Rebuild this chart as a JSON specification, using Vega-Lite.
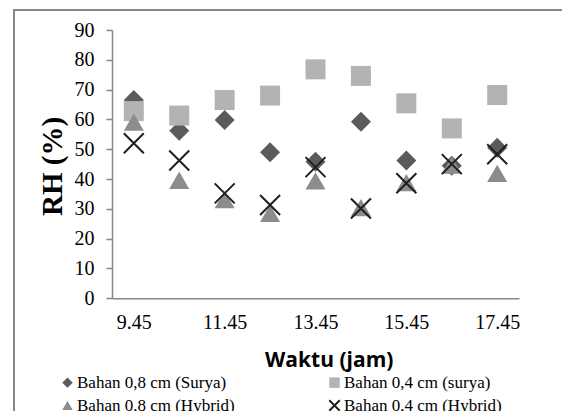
{
  "$schema": "https://vega.github.io/schema/vega-lite/v6.json",
  "width": 578,
  "height": 431,
  "autosize": {"type": "none"},
  "padding": {"left": 14, "top": 10, "right": -30, "bottom": -30},
  "background": "white",
  "config": {"view": {"stroke": "#878787", "strokeWidth": 2}},
  "data": {"values": [
    {"t": "9.45", "s": "Bahan  0,8 cm (Surya)", "rh": 66.5},
    {"t": "10.45", "s": "Bahan  0,8 cm (Surya)", "rh": 56.2},
    {"t": "11.45", "s": "Bahan  0,8 cm (Surya)", "rh": 59.8},
    {"t": "12.45", "s": "Bahan  0,8 cm (Surya)", "rh": 49.0},
    {"t": "13.45", "s": "Bahan  0,8 cm (Surya)", "rh": 45.8},
    {"t": "14.45", "s": "Bahan  0,8 cm (Surya)", "rh": 59.2},
    {"t": "15.45", "s": "Bahan  0,8 cm (Surya)", "rh": 46.2},
    {"t": "16.45", "s": "Bahan  0,8 cm (Surya)", "rh": 44.5},
    {"t": "17.45", "s": "Bahan  0,8 cm (Surya)", "rh": 50.5},
    {"t": "9.45", "s": "Bahan 0,4 cm (surya)", "rh": 62.8},
    {"t": "10.45", "s": "Bahan 0,4 cm (surya)", "rh": 61.3},
    {"t": "11.45", "s": "Bahan 0,4 cm (surya)", "rh": 66.5},
    {"t": "12.45", "s": "Bahan 0,4 cm (surya)", "rh": 68.0},
    {"t": "13.45", "s": "Bahan 0,4 cm (surya)", "rh": 76.8},
    {"t": "14.45", "s": "Bahan 0,4 cm (surya)", "rh": 74.6},
    {"t": "15.45", "s": "Bahan 0,4 cm (surya)", "rh": 65.4},
    {"t": "16.45", "s": "Bahan 0,4 cm (surya)", "rh": 57.0},
    {"t": "17.45", "s": "Bahan 0,4 cm (surya)", "rh": 68.2},
    {"t": "9.45", "s": "Bahan 0,8 cm (Hybrid)", "rh": 59.1},
    {"t": "10.45", "s": "Bahan 0,8 cm (Hybrid)", "rh": 39.6},
    {"t": "11.45", "s": "Bahan 0,8 cm (Hybrid)", "rh": 33.1},
    {"t": "12.45", "s": "Bahan 0,8 cm (Hybrid)", "rh": 28.5},
    {"t": "13.45", "s": "Bahan 0,8 cm (Hybrid)", "rh": 39.4},
    {"t": "14.45", "s": "Bahan 0,8 cm (Hybrid)", "rh": 30.4},
    {"t": "15.45", "s": "Bahan 0,8 cm (Hybrid)", "rh": 38.8},
    {"t": "16.45", "s": "Bahan 0,8 cm (Hybrid)", "rh": 44.7},
    {"t": "17.45", "s": "Bahan 0,8 cm (Hybrid)", "rh": 41.9},
    {"t": "9.45", "s": "Bahan 0,4 cm (Hybrid)", "rh": 52.0},
    {"t": "10.45", "s": "Bahan 0,4 cm (Hybrid)", "rh": 46.2},
    {"t": "11.45", "s": "Bahan 0,4 cm (Hybrid)", "rh": 35.2},
    {"t": "12.45", "s": "Bahan 0,4 cm (Hybrid)", "rh": 31.3},
    {"t": "13.45", "s": "Bahan 0,4 cm (Hybrid)", "rh": 44.0},
    {"t": "14.45", "s": "Bahan 0,4 cm (Hybrid)", "rh": 30.1},
    {"t": "15.45", "s": "Bahan 0,4 cm (Hybrid)", "rh": 38.6},
    {"t": "16.45", "s": "Bahan 0,4 cm (Hybrid)", "rh": 45.0},
    {"t": "17.45", "s": "Bahan 0,4 cm (Hybrid)", "rh": 48.3}
  ]},
  "mark": {"type": "point", "filled": true, "opacity": 1, "size": 400, "strokeWidth": 2},
  "encoding": {
    "x": {
      "field": "t", "type": "ordinal",
      "scale": {"domain": ["9.45", "10.45", "11.45", "12.45", "13.45", "14.45", "15.45", "16.45", "17.45"], "range": [98, 505], "padding": 0.48},
      "axis": {
        "title": "Waktu (jam)",
        "values": ["9.45", "11.45", "13.45", "15.45", "17.45"],
        "offset": -142.7,
        "ticks": false,
        "grid": false,
        "domainColor": "#878787",
        "domainWidth": 1.5,
        "labelFont": "Liberation Serif",
        "labelFontSize": 20,
        "labelColor": "black",
        "labelPadding": 14,
        "labelAngle": 0,
        "titleFont": "Open Sans",
        "titleFontSize": 21,
        "titleFontWeight": "bold",
        "titleColor": "black",
        "titleX": 314.7,
        "titleY": 68.4,
        "titleBaseline": "alphabetic",
        "titleAlign": "center"
      }
    },
    "y": {
      "field": "rh", "type": "quantitative",
      "scale": {"domain": [0, 90], "range": [288.3, 20], "nice": false},
      "axis": {
        "title": "RH (%)",
        "values": [0, 10, 20, 30, 40, 50, 60, 70, 80, 90],
        "offset": -98,
        "grid": false,
        "tickSize": 6,
        "tickColor": "#878787",
        "tickWidth": 1.5,
        "domainColor": "#878787",
        "domainWidth": 1.5,
        "labelFont": "Liberation Serif",
        "labelFontSize": 20,
        "labelColor": "black",
        "labelPadding": 12,
        "titleFont": "Liberation Serif",
        "titleFontSize": 29,
        "titleFontWeight": "bold",
        "titleColor": "black",
        "titleAngle": -90,
        "titleX": -59.5,
        "titleY": 156,
        "titleBaseline": "middle",
        "titleAlign": "center"
      }
    },
    "shape": {
      "field": "s", "type": "nominal",
      "scale": {"domain": ["Bahan  0,8 cm (Surya)", "Bahan 0,4 cm (surya)", "Bahan 0,8 cm (Hybrid)", "Bahan 0,4 cm (Hybrid)"], "range": ["diamond", "square", "triangle-up", "M-1,-1L1,1M1,-1L-1,1"]},
      "legend": {"orient": "none", "legendX": 45, "legendY": 364, "direction": "horizontal", "columns": 2, "columnPadding": 90, "rowPadding": 4, "title": null, "labelFont": "Liberation Serif", "labelFontSize": 17, "labelColor": "black", "symbolSize": 110, "symbolStrokeWidth": 2, "labelOffset": 1, "padding": 0}
    },
    "fill": {
      "field": "s", "type": "nominal",
      "scale": {"domain": ["Bahan  0,8 cm (Surya)", "Bahan 0,4 cm (surya)", "Bahan 0,8 cm (Hybrid)", "Bahan 0,4 cm (Hybrid)"], "range": ["#5b5b5b", "#b3b3b3", "#8c8c8c", "transparent"]},
      "legend": {"orient": "none", "legendX": 45, "legendY": 364, "direction": "horizontal", "columns": 2, "columnPadding": 90, "rowPadding": 4, "title": null, "labelFont": "Liberation Serif", "labelFontSize": 17, "labelColor": "black", "symbolSize": 110, "symbolStrokeWidth": 2, "labelOffset": 1, "padding": 0}
    },
    "stroke": {
      "field": "s", "type": "nominal",
      "scale": {"domain": ["Bahan  0,8 cm (Surya)", "Bahan 0,4 cm (surya)", "Bahan 0,8 cm (Hybrid)", "Bahan 0,4 cm (Hybrid)"], "range": ["transparent", "transparent", "transparent", "#1f1f1f"]},
      "legend": {"orient": "none", "legendX": 45, "legendY": 364, "direction": "horizontal", "columns": 2, "columnPadding": 90, "rowPadding": 4, "title": null, "labelFont": "Liberation Serif", "labelFontSize": 17, "labelColor": "black", "symbolSize": 110, "symbolStrokeWidth": 2, "labelOffset": 1, "padding": 0}
    }
  }
}
